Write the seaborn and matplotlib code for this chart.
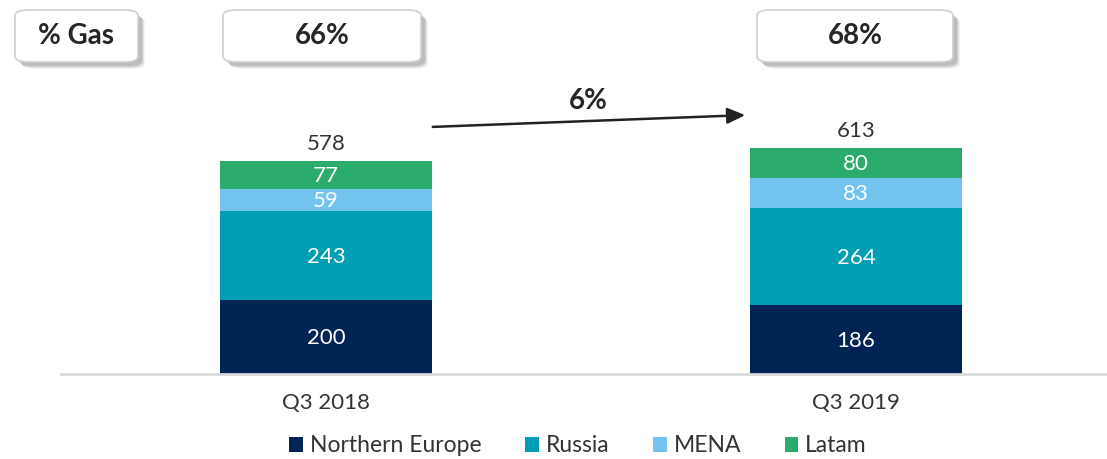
import numpy as np
import pandas as pd
import seaborn as sns
import matplotlib.pyplot as plt
from matplotlib.patches import FancyBboxPatch, Patch

# data
quarters = ["Q3 2018", "Q3 2019"]
regions = ["Northern Europe", "Russia", "MENA", "Latam"]
northern_europe = [200, 186]
russia = [243, 264]
mena = [59, 83]
latam = [77, 80]
totals = [578, 613]
gas_share = ["66%", "68%"]
growth_label = "6%"

colors = ["#002554", "#009EB4", "#72C4EE", "#2BAC6C"]
text_col = "#333333"

W, H = 1107, 459
sns.set_theme(style="white")
plt.rcParams["font.family"] = ["Lato", "DejaVu Sans"]

fig = plt.figure(figsize=(W / 100, H / 100), dpi=100)


def fx(x):
    return x / W


def fy(y):
    return 1 - y / H


# axes: baseline at y=374px, left at x=61px
ax = fig.add_axes([fx(61), fy(374), 1 - fx(61), 374 / H])

df = pd.DataFrame({"quarter": quarters})
series = [northern_europe, russia, mena, latam]
stack = np.cumsum(np.array(series), axis=0)

# draw cumulative heights from the top down so every segment shows
for i in range(len(regions) - 1, -1, -1):
    df["h"] = stack[i]
    sns.barplot(data=df, x="quarter", y="h", color=colors[i], width=0.4,
                saturation=1, ax=ax, edgecolor="none", linewidth=0)

ax.set_xlim(-0.5, 1.4736)
ax.set_ylim(0, 1015)
ax.set_xlabel("")
ax.set_ylabel("")
ax.set_yticks([])
ax.tick_params(axis="x", length=0, pad=14, labelsize=16, labelcolor=text_col)
for s in ["top", "right", "left"]:
    ax.spines[s].set_visible(False)
ax.spines["bottom"].set_color("#D9D9D9")
ax.spines["bottom"].set_linewidth(2)

# segment labels
for j in range(len(quarters)):
    bottom = 0
    for i, vals in enumerate(series):
        ax.text(j, bottom + vals[j] / 2 - 3, str(vals[j]), ha="center", va="center",
                color="white", fontsize=16)
        bottom += vals[j]
    ax.text(j, totals[j] + 20, str(totals[j]), ha="center", va="bottom",
            color=text_col, fontsize=16)


# rounded boxes with shadow at top
def box(x0, y0, x1, y1, label):
    w, h = fx(x1) - fx(x0), (y1 - y0) / H
    for k, a in [(7, 0.08), (6, 0.12), (5, 0.16), (4, 0.2)]:
        sh = FancyBboxPatch((fx(x0 + k), fy(y1 + k)), w, h,
                            boxstyle="round,pad=0,rounding_size=0.012",
                            transform=fig.transFigure, facecolor="#707070",
                            edgecolor="none", alpha=a, zorder=1)
        fig.patches.append(sh)
    b = FancyBboxPatch((fx(x0), fy(y1)), w, h,
                       boxstyle="round,pad=0,rounding_size=0.012",
                       transform=fig.transFigure, facecolor="white",
                       edgecolor="#D0D0D0", linewidth=1.2, zorder=2)
    fig.patches.append(b)
    fig.text(fx((x0 + x1) / 2), fy((y0 + y1) / 2), label, ha="center",
             va="center", fontsize=20, fontweight="bold", color="#262626",
             zorder=3)


box(15, 10, 138, 62, "% Gas")
box(223, 10, 421, 62, gas_share[0])
box(757, 10, 953, 62, gas_share[1])

# growth arrow
fig.add_artist(plt.Annotation("", xy=(fx(748), fy(115)), xytext=(fx(430), fy(127)),
                              xycoords="figure fraction", textcoords="figure fraction",
                              arrowprops=dict(arrowstyle="-|>,head_length=0.9,head_width=0.4",
                                              color="#222222", lw=1.8)))
fig.text(fx(588), fy(101), growth_label, ha="center", va="center", fontsize=20,
         fontweight="bold", color="#262626")

# legend
handles = [Patch(facecolor=c, edgecolor="none") for c in colors]
fig.legend(handles, regions, loc="center", bbox_to_anchor=(fx(578), fy(446)), ncol=4,
           frameon=False, fontsize=16.5, handlelength=0.6, handleheight=0.6,
           handletextpad=0.3, columnspacing=1.9, labelcolor=text_col)

fig.savefig("out.png", dpi=100)
